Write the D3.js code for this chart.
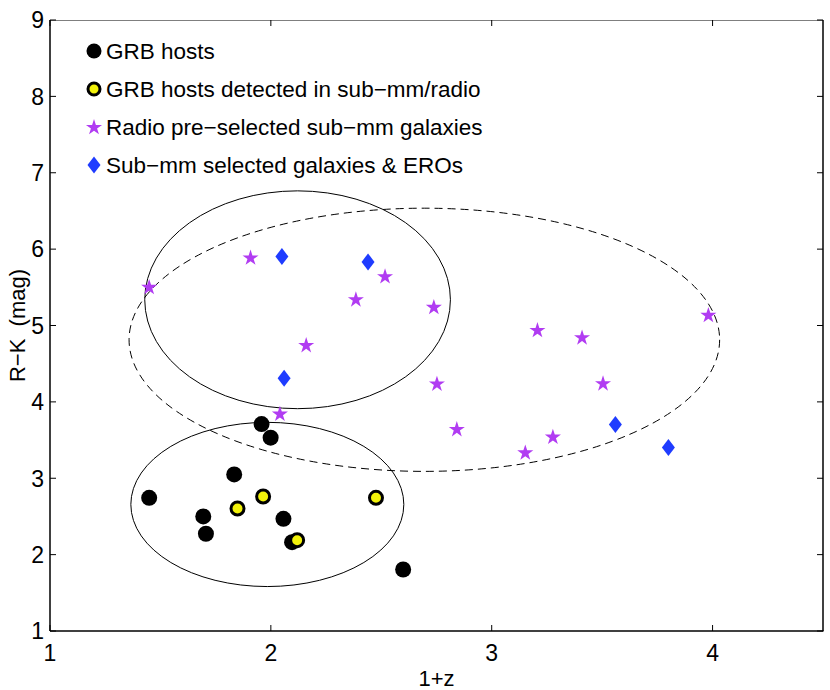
<!DOCTYPE html>
<html><head><meta charset="utf-8">
<script src="https://cdn.jsdelivr.net/npm/d3@7/dist/d3.min.js"></script>
<style>body{margin:0;background:#fff;} svg{display:block;} text{font-family:"Liberation Sans",Arial,Helvetica,sans-serif;}</style>
</head><body>
<svg id="chart" width="830" height="690"></svg>
<script>
// ---- data ----
const grbX = [1.449, 1.694, 1.706, 1.834, 1.958, 1.999, 2.057, 2.096, 2.599];
const grbY = [2.744, 2.50, 2.273, 3.05, 3.709, 3.531, 2.469, 2.163, 1.805];
const grbDetX = [1.849, 1.965, 2.119, 2.476];
const grbDetY = [2.604, 2.761, 2.189, 2.744];
const radioX = [1.449, 1.908, 2.517, 2.385, 2.738, 2.160, 2.752, 2.041, 3.981, 3.207, 3.409, 3.504, 2.842, 3.277, 3.152];
const radioY = [5.505, 5.89, 5.645, 5.343, 5.243, 4.744, 4.239, 3.845, 5.138, 4.941, 4.845, 4.243, 3.644, 3.544, 3.338];
const smmX = [2.050, 2.440, 2.060, 3.560, 3.800];
const smmY = [5.903, 5.832, 4.308, 3.705, 3.404];
// ellipses: [cx, cy, rx, ry]
const ellipseLow = [1.984, 2.657, 0.618, 1.075];
const ellipseUp = [2.121, 5.337, 0.692, 1.426];
const ellipseDash = [2.695, 4.813, 1.337, 1.723];
const xTicks = [1, 2, 3, 4];
const yTicks = [1, 2, 3, 4, 5, 6, 7, 8, 9];
const legendLabels = ["GRB hosts", "GRB hosts detected in sub\u2212mm/radio", "Radio pre\u2212selected sub\u2212mm galaxies", "Sub\u2212mm selected galaxies & EROs"];

const L = 50, R = 823, T = 20, B = 631;
const svg = d3.select("#chart");
const x = d3.scaleLinear().domain([1, 4.5]).range([L, R]);
const y = d3.scaleLinear().domain([1, 9]).range([B, T]);

const FS = 22.5, TFS = 23;
const purple = "#b13cf2", blue = "#1f3cff", yellow = "#f2f20a";

// clip
svg.append("clipPath").attr("id", "clip").append("rect").attr("x", L).attr("y", T).attr("width", R - L).attr("height", B - T);
const g = svg.append("g").attr("clip-path", "url(#clip)");

// ellipses
function drawEllipse(e, dash) {
  g.append("ellipse")
    .attr("cx", x(e[0])).attr("cy", y(e[1]))
    .attr("rx", x(e[0] + e[2]) - x(e[0])).attr("ry", y(e[1]) - y(e[1] + e[3]))
    .attr("fill", "none").attr("stroke", "#000").attr("stroke-width", 1)
    .attr("stroke-dasharray", dash ? "8,5" : null);
}
drawEllipse(ellipseLow, false);
drawEllipse(ellipseUp, false);
drawEllipse(ellipseDash, true);

const star = d3.symbol().type(d3.symbolStar).size(80);
function diamondPath(cx, cy) {
  const w = 6.5, h = 8.5;
  return `M${cx},${cy - h}L${cx + w},${cy}L${cx},${cy + h}L${cx - w},${cy}Z`;
}

// GRB hosts
g.selectAll(".grb").data(grbX.map((v, i) => [v, grbY[i]])).enter().append("circle")
  .attr("cx", d => x(d[0])).attr("cy", d => y(d[1])).attr("r", 8).attr("fill", "#000");
g.selectAll(".grbd").data(grbDetX.map((v, i) => [v, grbDetY[i]])).enter().append("circle")
  .attr("cx", d => x(d[0])).attr("cy", d => y(d[1])).attr("r", 6.5)
  .attr("fill", yellow).attr("stroke", "#000").attr("stroke-width", 3);
// radio stars
g.selectAll(".star").data(radioX.map((v, i) => [v, radioY[i]])).enter().append("path")
  .attr("d", star).attr("transform", d => `translate(${x(d[0])},${y(d[1]) + 0.5})`).attr("fill", purple);
// diamonds
g.selectAll(".dia").data(smmX.map((v, i) => [v, smmY[i]])).enter().append("path")
  .attr("d", d => diamondPath(x(d[0]), y(d[1]))).attr("fill", blue);

// axes box
svg.append("line").attr("x1", L).attr("x2", R).attr("y1", T + 0.5).attr("y2", T + 0.5).attr("stroke", "#7f7f7f").attr("stroke-width", 1.2);
svg.append("line").attr("x1", L).attr("x2", R + 0.5).attr("y1", B).attr("y2", B).attr("stroke", "#000").attr("stroke-width", 1.5);
svg.append("line").attr("x1", L).attr("x2", L).attr("y1", T).attr("y2", B).attr("stroke", "#000").attr("stroke-width", 1.5);
svg.append("line").attr("x1", R).attr("x2", R).attr("y1", T).attr("y2", B).attr("stroke", "#000").attr("stroke-width", 1.5);

const tl = 6;
const xa = svg.append("g");
xTicks.forEach(t => {
  xa.append("line").attr("x1", x(t)).attr("x2", x(t)).attr("y1", B).attr("y2", B - tl).attr("stroke", "#000");
  xa.append("line").attr("x1", x(t)).attr("x2", x(t)).attr("y1", T).attr("y2", T + tl).attr("stroke", "#000");
  xa.append("text").attr("x", x(t)).attr("y", B + 30).attr("text-anchor", "middle").attr("font-size", TFS).text(t);
});
yTicks.forEach(t => {
  xa.append("line").attr("x1", L).attr("x2", L + tl).attr("y1", y(t)).attr("y2", y(t)).attr("stroke", "#000");
  xa.append("line").attr("x1", R).attr("x2", R - tl).attr("y1", y(t)).attr("y2", y(t)).attr("stroke", "#000");
  xa.append("text").attr("x", L - 6).attr("y", y(t)).attr("dy", "0.36em").attr("text-anchor", "end").attr("font-size", TFS).text(t);
});

// axis labels
svg.append("text").attr("x", (L + R) / 2).attr("y", 686).attr("text-anchor", "middle").attr("font-size", 22).text("1+z");
svg.append("text").attr("transform", `translate(25,${(T + B) / 2}) rotate(-90)`).attr("text-anchor", "middle")
  .attr("font-size", 22).style("white-space", "pre").attr("xml:space", "preserve").text("R\u2212K  (mag)");

// legend
const legY = [51, 89, 127, 165];
const lg = svg.append("g");
lg.append("circle").attr("cx", 94).attr("cy", legY[0]).attr("r", 7.5).attr("fill", "#000");
lg.append("circle").attr("cx", 94).attr("cy", legY[1]).attr("r", 6).attr("fill", yellow).attr("stroke", "#000").attr("stroke-width", 3);
lg.append("path").attr("d", star).attr("transform", `translate(94,${legY[2] + 0.5})`).attr("fill", purple);
lg.append("path").attr("d", diamondPath(94, legY[3])).attr("fill", blue);
legendLabels.forEach((s, i) => {
  lg.append("text").attr("x", 106).attr("y", legY[i]).attr("dy", "0.36em").attr("font-size", FS).text(s);
});
</script>
</body></html>
